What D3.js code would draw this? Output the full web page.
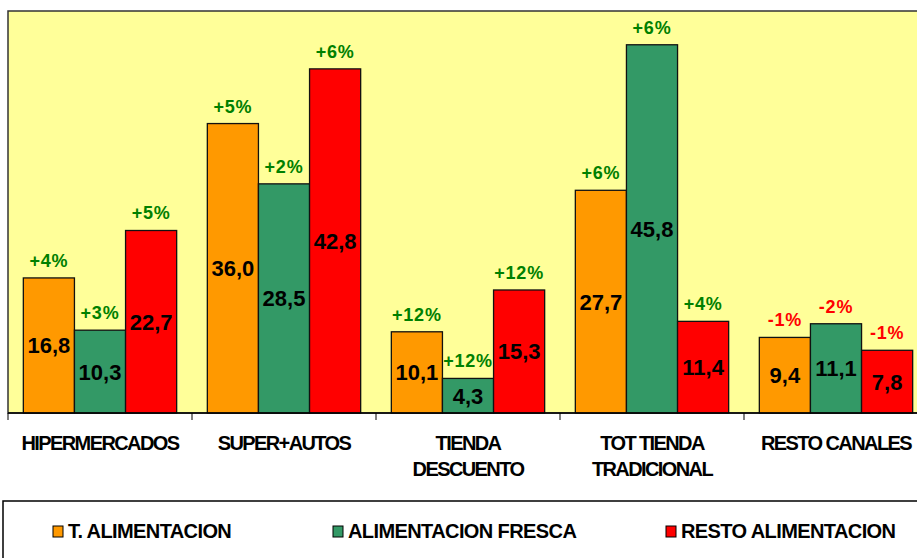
<!DOCTYPE html>
<html>
<head>
<meta charset="utf-8">
<script src="https://cdn.jsdelivr.net/npm/d3@7"></script>
<style>
  body { margin: 0; background: #fff; }
  svg { display: block; font-family: Arial, "Liberation Sans", sans-serif; }
</style>
</head>
<body>
<div id="chart"></div>
<script>
// data
var categories = ['HIPERMERCADOS', 'SUPER+AUTOS', 'TIENDA DESCUENTO', 'TOT TIENDA TRADICIONAL', 'RESTO CANALES'];
var categoryLines = [['HIPERMERCADOS'], ['SUPER+AUTOS'], ['TIENDA', 'DESCUENTO'], ['TOT TIENDA', 'TRADICIONAL'], ['RESTO CANALES']];
var seriesNames = ['T. ALIMENTACION', 'ALIMENTACION FRESCA', 'RESTO ALIMENTACION'];
var tAlimentacion = [16.8, 36.0, 10.1, 27.7, 9.4];
var alimFresca = [10.3, 28.5, 4.3, 45.8, 11.1];
var restoAlim = [22.7, 42.8, 15.3, 11.4, 7.8];
var tAlimentacionVar = ['+4%', '+5%', '+12%', '+6%', '-1%'];
var alimFrescaVar = ['+3%', '+2%', '+12%', '+6%', '-2%'];
var restoAlimVar = ['+5%', '+6%', '+12%', '+4%', '-1%'];
var colors = ['#FF9900', '#339966', '#FF0000'];

var width = 917, height = 558;
var plot = { left: 8, top: 11, right: 928, bottom: 413 };

var values = [tAlimentacion, alimFresca, restoAlim];
var variations = [tAlimentacionVar, alimFrescaVar, restoAlimVar];

var bars = [];
categories.forEach(function(c, i) {
    seriesNames.forEach(function(s, j) {
        bars.push({ cat: c, series: s, idx: j, value: values[j][i], change: variations[j][i] });
    });
});

var svg = d3.select('#chart').append('svg')
    .attr('width', width)
    .attr('height', height);

var x = d3.scaleBand().domain(categories).range([plot.left, plot.right]).padding(0);
var xSub = d3.scaleBand().domain(seriesNames).range([0, x.bandwidth()]).paddingInner(0).paddingOuter(0.3);
var y = d3.scaleLinear().domain([0, 50]).range([plot.bottom, plot.top]);

// plot area
svg.append('rect')
    .attr('x', plot.left)
    .attr('y', plot.top)
    .attr('width', plot.right - plot.left)
    .attr('height', plot.bottom - plot.top)
    .attr('fill', '#FFFF99')
    .attr('stroke', '#333')
    .attr('stroke-width', 1.5);

// bars
svg.selectAll('rect.bar')
    .data(bars)
    .enter().append('rect')
    .attr('class', 'bar')
    .attr('x', function(d) { return x(d.cat) + xSub(d.series); })
    .attr('y', function(d) { return y(d.value); })
    .attr('width', xSub.bandwidth())
    .attr('height', function(d) { return y(0) - y(d.value); })
    .attr('fill', function(d) { return colors[d.idx]; })
    .attr('stroke', '#111')
    .attr('stroke-width', 1.3);

// value labels inside bars
svg.selectAll('text.val')
    .data(bars)
    .enter().append('text')
    .attr('class', 'val')
    .attr('x', function(d) { return x(d.cat) + xSub(d.series) + xSub.bandwidth() / 2; })
    .attr('y', function(d) { return (y(d.value) + y(0)) / 2 + 8; })
    .attr('text-anchor', 'middle')
    .attr('font-size', 22)
    .attr('font-weight', 'bold')
    .attr('fill', '#000')
    .text(function(d) { return d.value.toFixed(1).replace('.', ','); });

// variation labels above bars
svg.selectAll('text.var')
    .data(bars)
    .enter().append('text')
    .attr('class', 'var')
    .attr('x', function(d) { return x(d.cat) + xSub(d.series) + xSub.bandwidth() / 2; })
    .attr('y', function(d) { return y(d.value) - 11; })
    .attr('text-anchor', 'middle')
    .attr('font-size', 18)
    .attr('font-weight', 'bold')
    .attr('letter-spacing', 0.8)
    .attr('fill', function(d) { return d.change.charAt(0) === '+' ? '#008000' : '#FF0000'; })
    .text(function(d) { return d.change; });

// x axis
var xAxis = svg.append('g')
    .attr('transform', 'translate(0,' + plot.bottom + ')');
xAxis.append('line')
    .attr('x1', plot.left).attr('x2', plot.right)
    .attr('stroke', '#000').attr('stroke-width', 1.5);
xAxis.selectAll('line.tick')
    .data(categories)
    .enter().append('line')
    .attr('class', 'tick')
    .attr('x1', function(d) { return x(d); })
    .attr('x2', function(d) { return x(d); })
    .attr('y1', 0).attr('y2', 7)
    .attr('stroke', '#000');

var catLabels = svg.selectAll('text.cat')
    .data(categories)
    .enter().append('text')
    .attr('class', 'cat')
    .attr('text-anchor', 'middle')
    .attr('font-size', 20)
    .attr('font-weight', 'bold')
    .attr('letter-spacing', -1.6)
    .attr('fill', '#000');
catLabels.each(function(d, i) {
    var t = d3.select(this);
    categoryLines[i].forEach(function(line, k) {
        t.append('tspan')
            .attr('x', x(d) + x.bandwidth() / 2)
            .attr('y', 450 + k * 26)
            .text(line);
    });
});

// legend
svg.append('rect')
    .attr('x', 3)
    .attr('y', 501)
    .attr('width', 940)
    .attr('height', 100)
    .attr('fill', '#fff')
    .attr('stroke', '#000')
    .attr('stroke-width', 1.5);

var legendX = [53, 333, 666];
var legend = svg.selectAll('g.legend')
    .data(seriesNames)
    .enter().append('g')
    .attr('class', 'legend')
    .attr('transform', function(d, i) { return 'translate(' + legendX[i] + ',526)'; });
legend.append('rect')
    .attr('width', 10)
    .attr('height', 11)
    .attr('fill', function(d, i) { return colors[i]; })
    .attr('stroke', '#000');
legend.append('text')
    .attr('x', 15)
    .attr('y', 12)
    .attr('font-size', 20)
    .attr('font-weight', 'bold')
    .attr('letter-spacing', -0.6)
    .text(function(d) { return d; });
</script>
</body>
</html>
